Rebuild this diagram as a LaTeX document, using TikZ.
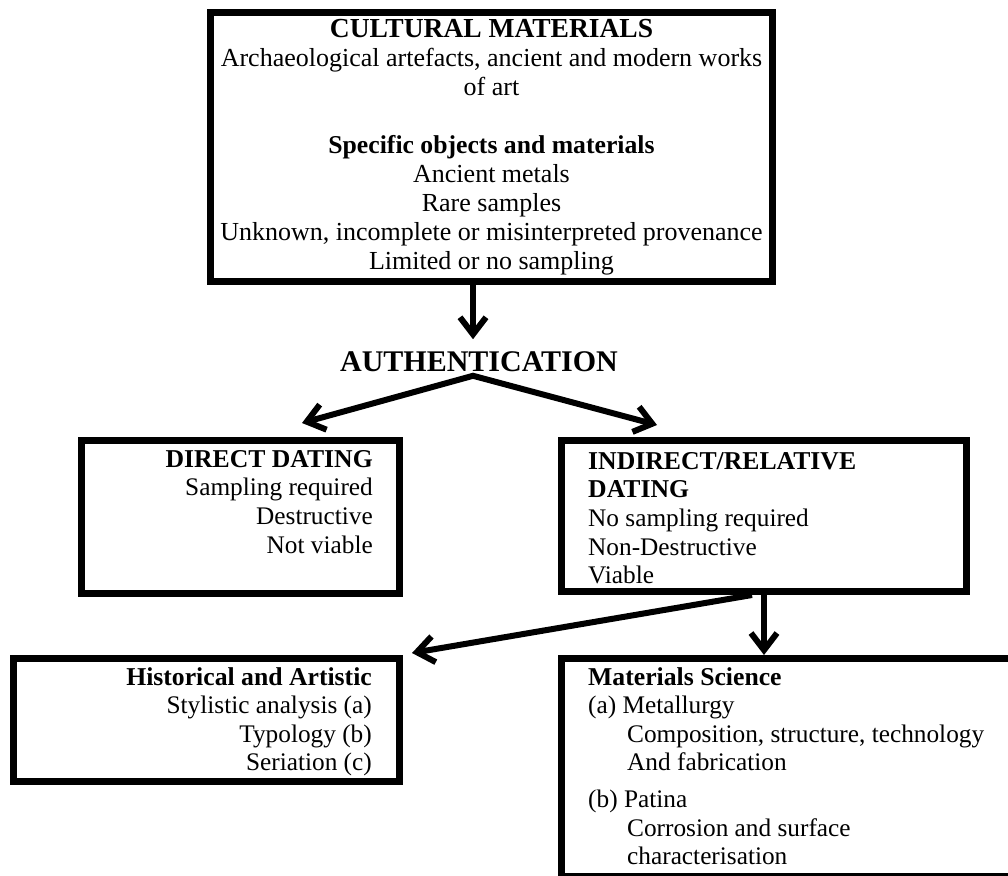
\documentclass[tikz,border=0pt]{standalone}
\usepackage{fontspec}
\setmainfont{Liberation Serif}
\usetikzlibrary{arrows.meta,positioning,calc}

\newcommand{\hd}[1]{{\fontsize{25.7}{29}\selectfont\bfseries #1}}

\begin{document}
\begin{tikzpicture}[x=1pt,y=-1pt,
 font=\fontsize{25.3}{28.6}\selectfont,
 >={Straight Barb[length=17pt,width=26pt]},
 box/.style={draw,line width=7pt,inner sep=0pt},
 txt/.style={inner sep=0pt},
 arr/.style={line width=6pt,->}
]
\useasboundingbox (0,0) rectangle (1008,875);
\clip (0,0) rectangle (1008,875);

\node[box,minimum width=562pt,minimum height=269pt,align=center,font=\fontsize{26}{29}\selectfont] (cult) at (491.5,147) {{\bfseries\fontsize{27.5}{29}\selectfont CULTURAL MATERIALS}\\Archaeological artefacts, ancient and modern works\\of art\\[29pt]\hd{Specific objects and materials}\\Ancient metals\\Rare samples\\Unknown, incomplete or misinterpreted provenance\\Limited or no sampling};

\node[txt,font=\fontsize{30}{32}\selectfont\bfseries] (auth) at (479,361.5) {AUTHENTICATION};
\coordinate (apex) at ($(auth.south)+(-6,4)$);

\node[box,minimum width=318pt,minimum height=153pt] (dd) at (240.5,517) {};
\node[txt,align=right,below left=13pt and 30pt of dd.north east] (ddtxt) {\hd{DIRECT DATING}\\Sampling required\\Destructive\\Not viable};

\node[box,minimum width=405pt,minimum height=151pt] (idd) at (764,516) {};
\node[txt,align=left,below right=15pt and 30pt of idd.north west] (iddtxt) {\hd{INDIRECT/RELATIVE}\\\hd{DATING}\\No sampling required\\Non-Destructive\\Viable};

\node[box,minimum width=386pt,minimum height=123pt] (hist) at (206.5,720) {};
\node[txt,align=right,below left=12pt and 31pt of hist.north east] (histtxt) {\hd{Historical and Artistic}\\Stylistic analysis (a)\\Typology (b)\\Seriation (c)};

% box runs off the page to the right, as in the source
\node[box,minimum width=640pt,minimum height=218pt] (ms) at (881.5,767.5) {};
\node[txt,align=left,below right=12pt and 30pt of ms.north west] (mstxt) {\hd{Materials Science}\\(a) Metallurgy\\\hspace*{39pt}Composition, structure, technology\\\hspace*{39pt}And fabrication\\[8pt](b) Patina\\\hspace*{39pt}Corrosion and surface\\\hspace*{39pt}characterisation};

\draw[arr] (cult.south -| apex) -- ($(auth.north -| apex)+(0,-12)$);
\draw[arr,<->] ($(dd.north)+(61.5,-14)$) -- (apex) -- ($(idd.north)+(-107,-12)$);
\draw[arr] (idd.south) -- (idd.south |- ms.north);
\draw[arr] ($(idd.south)+(-12,0)$) -- ($(hist.north east)+(9,-2)$);
\end{tikzpicture}
\end{document}
